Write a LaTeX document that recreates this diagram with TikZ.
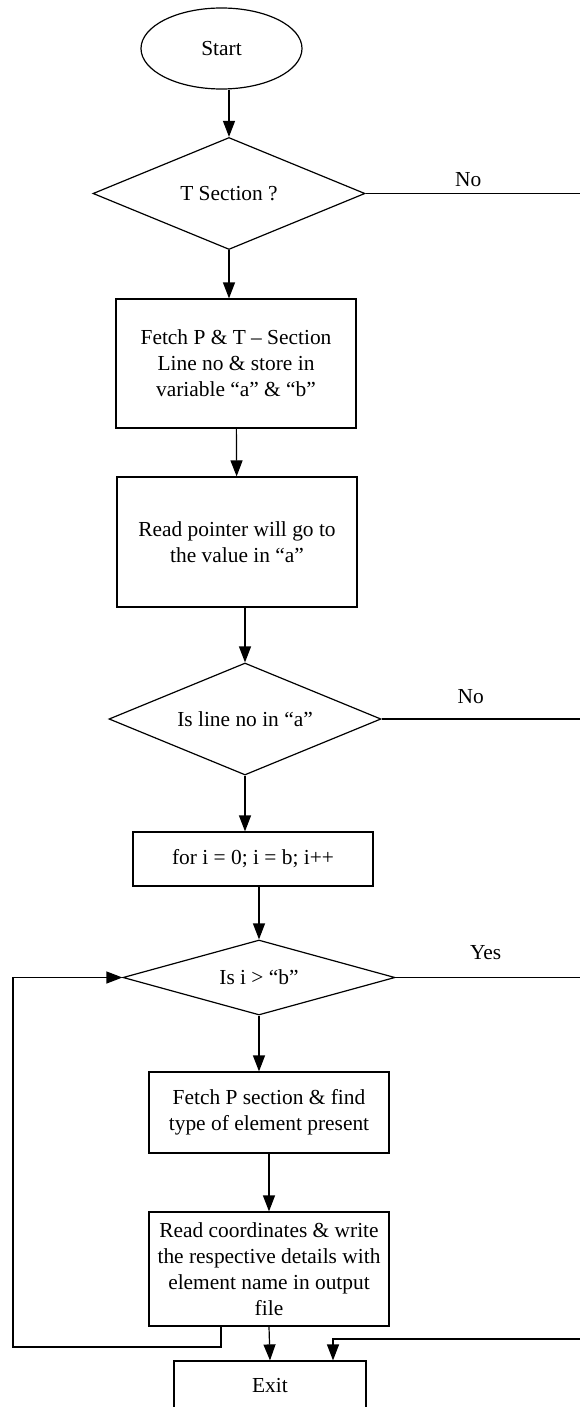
\documentclass[tikz,border=0pt]{standalone}
\usepackage{fontspec}
\setmainfont{Liberation Serif}
\usetikzlibrary{positioning,arrows.meta,shapes.geometric}

\begin{document}
\begin{tikzpicture}[
  x=0.5pt, y=-0.5pt,
  font=\fontsize{10.7}{13}\selectfont,
  line width=0.6pt,
  box/.style={draw, rectangle, align=center, minimum width=120pt,
              minimum height=#1, inner sep=2pt},
  box/.default=40pt,
  test/.style={draw, diamond, aspect=2.4, inner sep=0pt, align=center,
               minimum width=136pt, minimum height=#1},
  test/.default=56pt,
  arr/.style={-{Triangle[length=8pt, width=6pt]}}]
\useasboundingbox (0,0) rectangle (579,1407);
\node[draw, ellipse, minimum width=80.5pt, minimum height=40.5pt] (start) at (221.5,48.5) {Start};
\node[test] (tsec) at (229,193.5) {T Section ?};
\node[box=64.5pt] (fetch) at (236,363.5) {Fetch P \& T – Section\\Line no \& store in\\variable “a” \& “b”};
\node[box=65pt] (ptr) at (237,542) {Read pointer will go to\\the value in “a”};
\node[test] (isline) at (245,719) {Is line no in “a”};
\node[box=27pt] (loop) at (253,859) {for i = 0; i = b; i++};
\node[test=37.5pt] (isgt) at (259,977.5) {Is i > “b”};
\node[box=40.5pt] (fetchp) at (269,1112.5) {Fetch P section \& find\\type of element present};
\node[box=57pt] (readco) at (269,1269) {Read coordinates \& write\\the respective details with\\element name in output\\file};
\node[box=25pt, minimum width=96pt] (exit) at (270,1386) {Exit};
\coordinate (rail) at (610,1339);
\coordinate (back) at (13,1347);
\draw[arr] (tsec.north |- start.south) -- (tsec.north);
\draw[arr] (tsec.south) -- (tsec.south |- fetch.north);
\draw[arr] (fetch) -- (ptr);
\draw[arr] (isline.north |- ptr.south) -- (isline.north);
\draw[arr] (isline.south) -- (isline.south |- loop.north);
\draw[arr] (isgt.north |- loop.south) -- (isgt.north);
\draw[arr] (isgt.south) -- (isgt.south |- fetchp.north);
\draw[arr] (fetchp) -- (readco);
\draw[arr] (readco.south) -- (exit.north);
\draw[arr] ([xshift=-24pt]readco.south) |- (back) |- (isgt.west);
\draw (tsec.east) -- node[above, pos=0.42]{No} (tsec.east -| rail) -- (rail);
\draw (isline.east) -- node[above=4pt, pos=0.39]{No} (isline.east -| rail);
\draw (isgt.east) -- node[above=5.5pt, pos=0.42]{Yes} (isgt.east -| rail);
\draw[arr] (rail) -| ([xshift=31.5pt]exit.north);
\end{tikzpicture}
\end{document}
